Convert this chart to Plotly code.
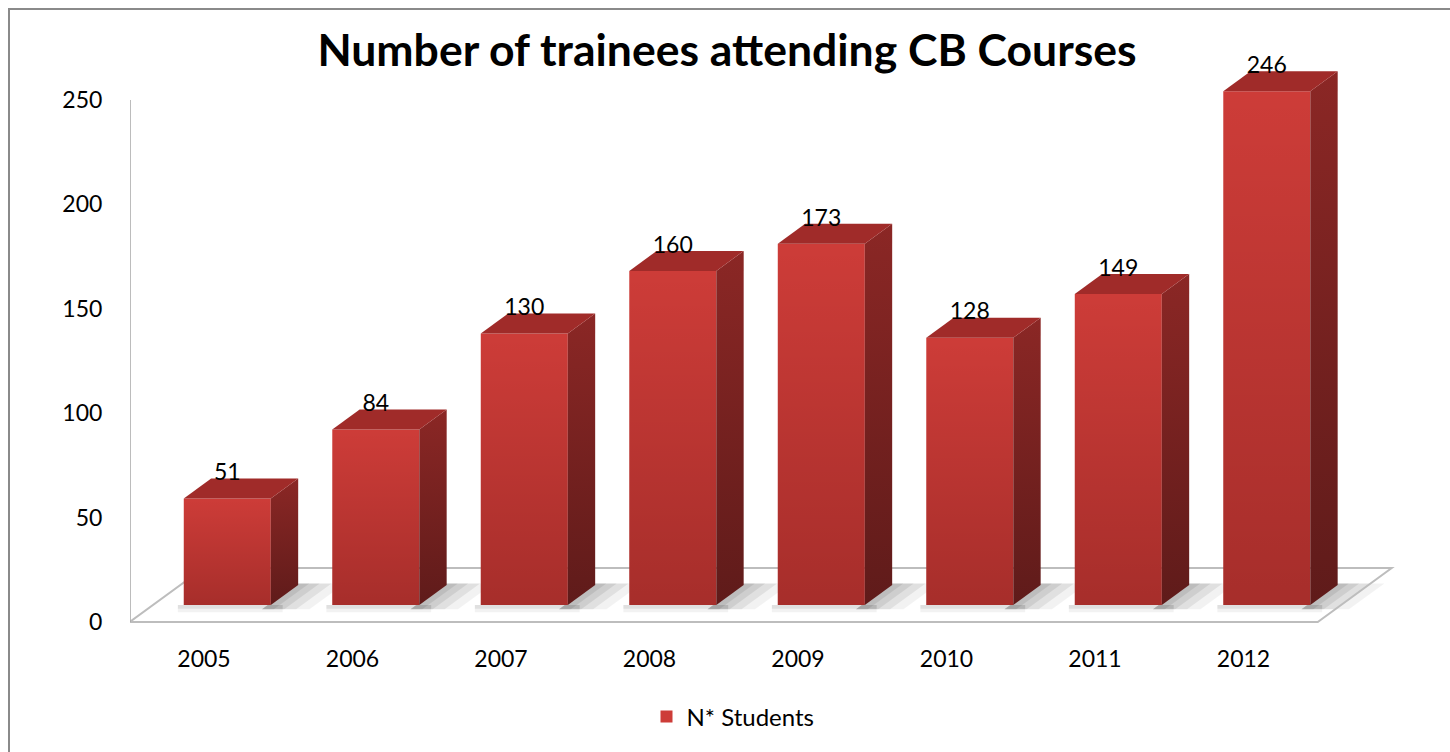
import plotly.graph_objects as go

# ---- data ----
years = ["2005", "2006", "2007", "2008", "2009", "2010", "2011", "2012"]
students = [51, 84, 130, 160, 173, 128, 149, 246]
y_ticks = [0, 50, 100, 150, 200, 250]
title_text = "Number of trainees attending CB Courses"
series_name = "N* Students"

# ---- 3D geometry (in axis units) ----
DX, DY = 0.498, 25.86        # full floor depth vector
T0, T1 = 0.315, 0.685        # bar front / back depth fraction
BW = 0.586                   # bar width (category units)
FL, FR = -0.5, 7.5           # floor extent on front plane
LBL_OFF = 11.5               # value label offset above front top

n = len(years)
xi = list(range(n))
base = T0 * DY
bdx = (T1 - T0) * DX
bdy = (T1 - T0) * DY
xc = [i + T0 * DX for i in xi]

W, H = 1450, 752
ML, MR, MT, MB = 130, 50, 60, 118
pw, ph = W - ML - MR, H - MT - MB
px_per_cat, px_per_unit = 148.5, 2.088
x_range = [(ML - 204) / px_per_cat, (W - MR - 204) / px_per_cat]
y_range = [(622 - (H - MB)) / px_per_unit, (622 - MT) / px_per_unit]

FRONT = "#CD3C38"
TOP = "#A02B29"

fig = go.Figure()

# front faces (bars)
fig.add_trace(go.Bar(
    x=xc, y=students, base=[base] * n, width=BW,
    marker=dict(color=FRONT, line=dict(width=0)),
    name=series_name, showlegend=True, hoverinfo="skip",
))

for i, v in enumerate(students):
    x0, x1 = xc[i] - BW / 2, xc[i] + BW / 2
    y0, y1 = base, base + v
    # gradient shading of the front
    fig.add_trace(go.Scatter(
        x=[x0, x1, x1, x0, x0], y=[y0, y0, y1, y1, y0],
        mode="lines", line=dict(width=0), fill="toself",
        fillgradient=dict(type="vertical",
                          colorscale=[[0, "rgba(45,0,0,0.24)"], [1, "rgba(45,0,0,0)"]]),
        showlegend=False, hoverinfo="skip",
    ))
    # right side face
    fig.add_trace(go.Scatter(
        x=[x1, x1 + bdx, x1 + bdx, x1, x1],
        y=[y0, y0 + bdy, y1 + bdy, y1, y0],
        mode="lines", line=dict(width=0), fill="toself",
        fillgradient=dict(type="vertical",
                          colorscale=[[0, "#5F1B1A"], [1, "#8B2725"]]),
        showlegend=False, hoverinfo="skip",
    ))
    # top face
    fig.add_trace(go.Scatter(
        x=[x0, x1, x1 + bdx, x0 + bdx, x0],
        y=[y1, y1, y1 + bdy, y1 + bdy, y1],
        mode="lines", line=dict(width=0), fill="toself",
        fillcolor=TOP, showlegend=False, hoverinfo="skip",
    ))

# value labels
fig.add_trace(go.Scatter(
    x=xc, y=[base + v + LBL_OFF for v in students],
    mode="text", text=[str(v) for v in students],
    textposition="middle center",
    textfont=dict(family="Lato", size=23, color="#000000"),
    showlegend=False, hoverinfo="skip", cliponaxis=False,
))

shapes = []
# soft floor shadows to the right of each bar
for i in xi:
    xr = xc[i] + BW / 2
    for ext, a in [(0.30, 0.05), (0.21, 0.07), (0.13, 0.08), (0.06, 0.08)]:
        ta, tb = T0 - 0.08, T1 + 0.03
        pts = [
            (xr - 0.02 + (ta - T0) * DX, ta * DY),
            (xr + ext + (ta - T0) * DX, ta * DY),
            (xr + ext + (tb - T0) * DX, tb * DY),
            (xr - 0.02 + (tb - T0) * DX, tb * DY),
        ]
        path = "M " + " L ".join(f"{x:.4f},{y:.4f}" for x, y in pts) + " Z"
        shapes.append(dict(type="path", path=path, xref="x", yref="y",
                           fillcolor=f"rgba(0,0,0,{a})", line=dict(width=0),
                           layer="below"))
    # faint shadow in front of the bar base
    x0 = xc[i] - BW / 2
    for d, a in [(3.5, 0.05), (1.8, 0.07)]:
        pts = [(x0 - 0.04, base - d), (xr + 0.08, base - d),
               (xr + 0.08, base), (x0 - 0.04, base)]
        path = "M " + " L ".join(f"{x:.4f},{y:.4f}" for x, y in pts) + " Z"
        shapes.append(dict(type="path", path=path, xref="x", yref="y",
                           fillcolor=f"rgba(0,0,0,{a})", line=dict(width=0),
                           layer="below"))

# floor outline
floor_pts = [(FL, 0), (FR, 0), (FR + DX, DY), (FL + DX, DY)]
path = "M " + " L ".join(f"{x:.4f},{y:.4f}" for x, y in floor_pts) + " Z"
shapes.append(dict(type="path", path=path, xref="x", yref="y",
                   line=dict(color="#BDBDBD", width=2), layer="below"))
# vertical axis line
shapes.append(dict(type="line", xref="x", yref="y", x0=FL, x1=FL,
                   y0=0, y1=y_ticks[-1], line=dict(color="#A6A6A6", width=2),
                   layer="below"))
# outer chart border
shapes.append(dict(type="rect", xref="paper", yref="paper",
                   x0=(9 - ML) / pw, x1=(W + 20 - ML) / pw,
                   y0=(H - MB - (H + 20)) / ph, y1=(H - MB - 9) / ph,
                   line=dict(color="#8A8A8A", width=2), fillcolor="rgba(0,0,0,0)",
                   layer="below"))

fig.update_layout(
    width=W, height=H,
    margin=dict(l=ML, r=MR, t=MT, b=MB),
    paper_bgcolor="white", plot_bgcolor="white",
    font=dict(family="Lato", size=22, color="#000000"),
    title=dict(text=f"<b>{title_text}</b>", x=727 / W, xanchor="center",
               y=1 - 50 / H, yanchor="middle", yref="container",
               font=dict(family="Lato", size=44.5, color="#000000")),
    showlegend=True,
    legend=dict(orientation="h", x=(733 - ML) / pw, xanchor="center",
                y=(H - MB - 717) / ph, yanchor="middle",
                font=dict(family="Lato", size=24), bgcolor="rgba(0,0,0,0)"),
    shapes=shapes,
    xaxis=dict(range=x_range, tickvals=xi, ticktext=years, showgrid=False,
               zeroline=False, showline=False, ticks="outside", ticklen=4,
               tickcolor="rgba(0,0,0,0)", tickfont=dict(family="Lato", size=23),
               fixedrange=True),
    yaxis=dict(range=y_range, tickvals=y_ticks, showgrid=False, zeroline=False,
               showline=False, ticks="outside", ticklen=22,
               tickcolor="rgba(0,0,0,0)", tickfont=dict(family="Lato", size=23),
               fixedrange=True),
)

fig.write_html("out.html")
